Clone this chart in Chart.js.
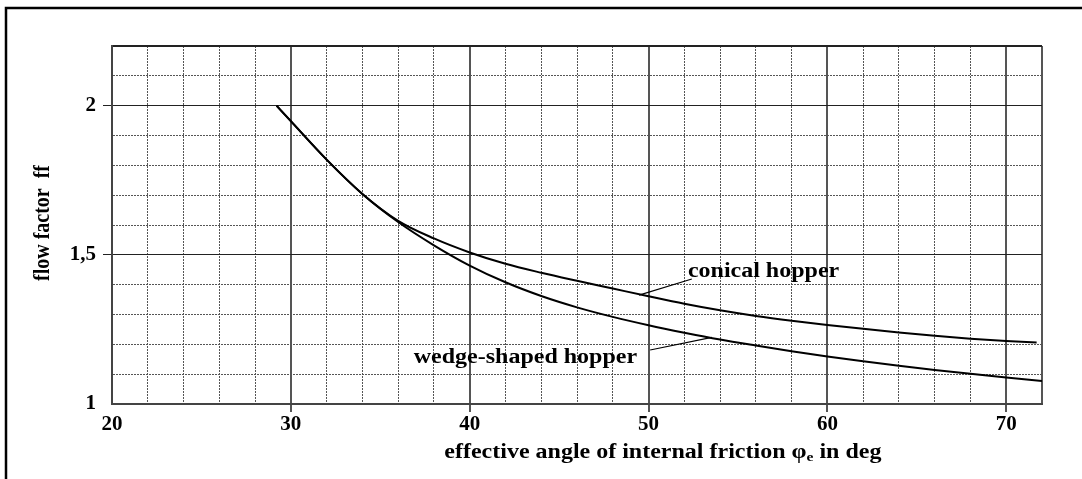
<!DOCTYPE html>
<html>
<head>
<meta charset="utf-8">
<script src="https://cdn.jsdelivr.net/npm/chart.js@4.4.1/dist/chart.umd.min.js"></script>
<style>
  html, body { margin: 0; padding: 0; background: #fff; }
</style>
</head>
<body>
<canvas id="chart" width="1082" height="479"></canvas>
<script>
// values
const conicalX = [29.2, 30, 32, 34, 36, 38, 40, 42, 44, 46, 48, 50, 52, 54, 56, 58, 60, 62, 64, 66, 68, 70, 71.7];
const conicalY = [2.0, 1.948, 1.819, 1.704, 1.614, 1.555, 1.508, 1.47, 1.44, 1.413, 1.387, 1.361, 1.336, 1.314, 1.295, 1.279, 1.265, 1.252, 1.24, 1.229, 1.219, 1.211, 1.206];
const wedgeX = [29.2, 30, 32, 34, 36, 38, 40, 42, 44, 46, 48, 50, 52, 54, 56, 58, 60, 62, 64, 66, 68, 70, 72];
const wedgeY = [2.0, 1.948, 1.819, 1.704, 1.61, 1.532, 1.464, 1.408, 1.362, 1.324, 1.292, 1.264, 1.239, 1.216, 1.196, 1.177, 1.159, 1.143, 1.128, 1.114, 1.101, 1.089, 1.077];

const xLabelled = [20, 30, 40, 50, 60, 70];
const yLabelled = [1, 1.5, 2];
const yLabelText = ['1', '1,5', '2'];

const seriesNames = ['conical hopper', 'wedge-shaped hopper'];
const yTitle = 'flow factor  ff';
const xTitleParts = ['effective angle of internal friction \u03c6', 'e', ' in deg'];

const FONT = '"Liberation Serif", "Times New Roman", serif';
const SX = 1.2; // reference text is a bit wider than it is tall

const toPoints = (xs, ys) => xs.map((x, i) => ({ x, y: ys[i] }));

const isMajorX = v => v % 10 === 0 || v === 72;
const isMajorY = v => {
  const r = Math.round(v * 10);
  return r % 5 === 0 || r === 22;
};

function drawText(ctx, text, x, y, align) {
  ctx.save();
  ctx.translate(x, y);
  ctx.scale(SX, 1);
  ctx.textAlign = align;
  ctx.fillText(text, 0, 0);
  ctx.restore();
}

const notes = [
  { text: seriesNames[0], x: 52.2, y: 1.4425, align: 'left', from: [52.42, 1.419], to: [49.47, 1.365] },
  { text: seriesNames[1], x: 49.36, y: 1.155, align: 'right', from: [50.09, 1.181], to: [53.54, 1.2236] }
];

const textPlugin = {
  id: 'textPlugin',
  afterDraw(chart) {
    const { ctx, scales: { x, y }, chartArea } = chart;
    ctx.save();
    // outer frame (right and bottom cut off in the reference)
    ctx.strokeStyle = '#000';
    ctx.lineWidth = 2.5;
    ctx.beginPath();
    ctx.moveTo(6, 479);
    ctx.lineTo(6, 8);
    ctx.lineTo(1082, 8);
    ctx.stroke();

    ctx.fillStyle = '#000';
    ctx.textBaseline = 'middle';
    ctx.font = 'bold 20px ' + FONT;

    // y title
    ctx.save();
    ctx.translate(43, (chartArea.top + chartArea.bottom) / 2 - 2);
    ctx.rotate(-Math.PI / 2);
    ctx.scale(1, SX);
    ctx.textAlign = 'center';
    ctx.fillText(yTitle, 0, 0);
    ctx.restore();

    // x title with subscript
    ctx.font = 'bold 20px ' + FONT;
    const w1 = ctx.measureText(xTitleParts[0]).width;
    const w3 = ctx.measureText(xTitleParts[2]).width;
    ctx.font = 'bold 13px ' + FONT;
    const w2 = ctx.measureText(xTitleParts[1]).width;
    const total = (w1 + w2 + w3) * SX;
    let tx = x.getPixelForValue(50.8) - total / 2;
    const ty = chartArea.bottom + 49;
    ctx.font = 'bold 20px ' + FONT;
    drawText(ctx, xTitleParts[0], tx, ty, 'left');
    tx += w1 * SX;
    ctx.font = 'bold 13px ' + FONT;
    drawText(ctx, xTitleParts[1], tx, ty + 5, 'left');
    tx += w2 * SX;
    ctx.font = 'bold 20px ' + FONT;
    drawText(ctx, xTitleParts[2], tx, ty, 'left');

    // curve labels with leader lines
    ctx.lineWidth = 1.2;
    notes.forEach(n => {
      ctx.beginPath();
      ctx.moveTo(x.getPixelForValue(n.from[0]), y.getPixelForValue(n.from[1]));
      ctx.lineTo(x.getPixelForValue(n.to[0]), y.getPixelForValue(n.to[1]));
      ctx.stroke();
      ctx.font = 'bold 20px ' + FONT;
      drawText(ctx, n.text, x.getPixelForValue(n.x), y.getPixelForValue(n.y), n.align);
    });
    ctx.restore();
  }
};

new Chart(document.getElementById('chart'), {
  type: 'scatter',
  data: {
    datasets: [
      {
        label: seriesNames[0],
        data: toPoints(conicalX, conicalY),
        showLine: true,
        borderColor: '#000',
        borderWidth: 2,
        pointRadius: 0,
        cubicInterpolationMode: 'monotone'
      },
      {
        label: seriesNames[1],
        data: toPoints(wedgeX, wedgeY),
        showLine: true,
        borderColor: '#000',
        borderWidth: 2,
        pointRadius: 0,
        cubicInterpolationMode: 'monotone'
      }
    ]
  },
  options: {
    responsive: false,
    animation: false,
    layout: { padding: { left: 0, top: 46, right: 40, bottom: 0 } },
    plugins: {
      legend: { display: false },
      tooltip: { enabled: false }
    },
    scales: {
      x: {
        type: 'linear',
        min: 20,
        max: 72,
        afterFit(s) { s.height = 75; },
        ticks: {
          stepSize: 2,
          autoSkip: false,
          maxRotation: 0,
          padding: 0,
          color: '#000',
          font: { family: FONT, size: 21, weight: 'bold' },
          callback: v => (xLabelled.includes(v) ? String(v) : '')
        },
        grid: {
          color: '#555',
          lineWidth: c => (isMajorX(c.tick.value) ? 2 : 1),
          tickLength: 8,
          tickColor: c => (xLabelled.includes(c.tick.value) && c.tick.value !== 20 ? '#555' : 'rgba(0,0,0,0)'),
          tickWidth: 2
        },
        border: {
          color: '#444',
          width: 2,
          dash: c => (c.type === 'tick' && !isMajorX(c.tick.value) ? [2, 1] : [])
        }
      },
      y: {
        min: 1,
        max: 2.2,
        afterFit(s) { s.width = 112; },
        ticks: {
          stepSize: 0.1,
          autoSkip: false,
          padding: 7,
          color: '#000',
          font: { family: FONT, size: 21, weight: 'bold' },
          callback: v => {
            const i = yLabelled.findIndex(t => Math.abs(t - v) < 1e-6);
            return i >= 0 ? yLabelText[i] : '';
          }
        },
        grid: {
          color: c => (isMajorY(c.tick.value) ? '#222' : '#555'),
          lineWidth: c => (Math.round(c.tick.value * 10) === 22 ? 2 : 1),
          tickLength: 9,
          tickColor: c => {
            const r = Math.round(c.tick.value * 10);
            return r === 15 || r === 20 ? '#222' : 'rgba(0,0,0,0)';
          },
          tickWidth: 1
        },
        border: {
          color: '#444',
          width: 2,
          dash: c => (c.type === 'tick' && !isMajorY(c.tick.value) ? [2, 1] : [])
        }
      }
    }
  },
  plugins: [textPlugin]
});
</script>
</body>
</html>
